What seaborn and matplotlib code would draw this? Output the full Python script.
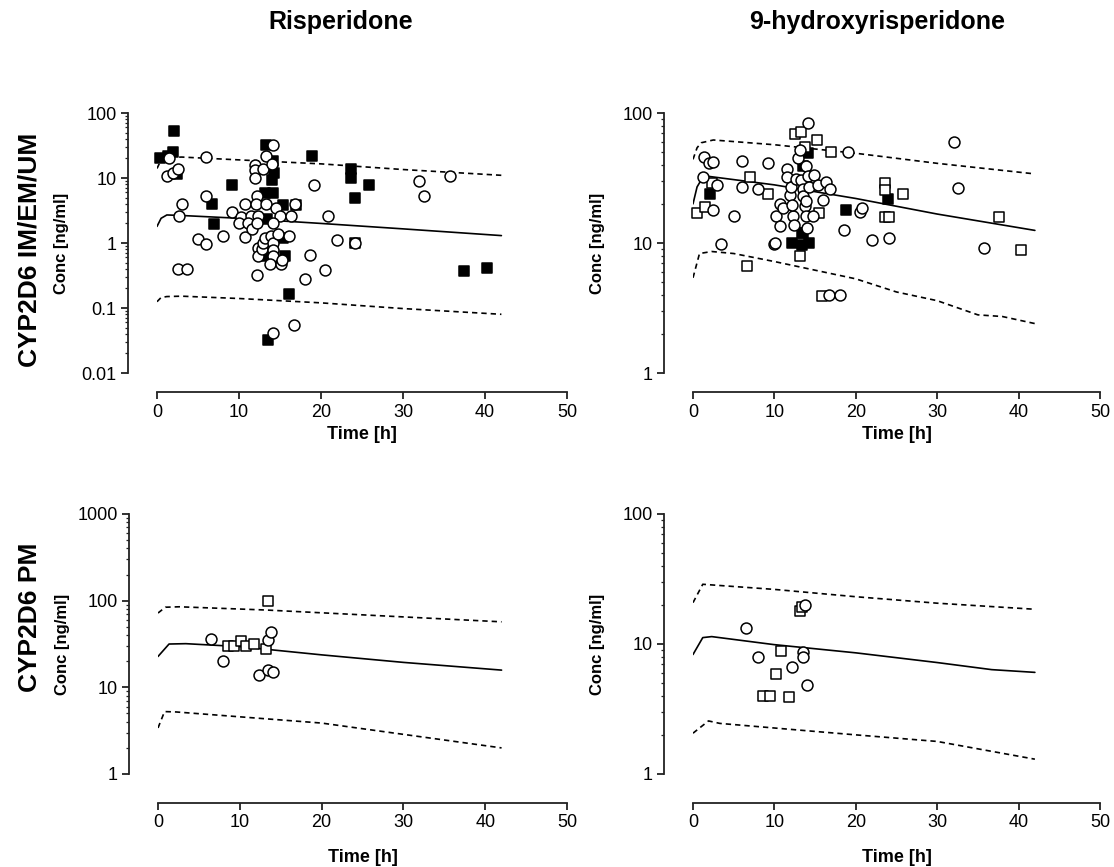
import numpy as np
import pandas as pd
import matplotlib
matplotlib.use("Agg")
import matplotlib.pyplot as plt
import seaborn as sns

# ---------------- data ----------------
# Risperidone, CYP2D6 IM/EM/UM
ris_em_circ_t = [1.5, 1.2, 2.0, 2.6, 2.7, 3.1, 2.5, 3.6, 6.0, 6.0, 5.0, 6.0, 8.0, 9.2, 10.2, 10.0,
                 10.7, 10.7, 11.5, 11.1, 11.6, 12.2, 12.1, 12.3, 12.2, 12.0, 12.0, 12.0, 12.9, 13.3,
                 14.2, 14.0, 13.3, 14.5, 15.0, 14.1, 16.3, 16.8, 12.3, 12.3, 12.8, 12.9, 13.2, 13.9,
                 14.1, 14.1, 14.1, 13.8, 15.1, 15.3, 14.8, 16.1, 12.2, 14.1, 16.7, 18.0, 18.6, 19.1,
                 20.5, 20.9, 22.0, 24.1, 31.9, 32.6, 35.7]
ris_em_circ_c = [20.3, 10.6, 12, 14, 2.6, 4.0, 0.40, 0.40, 21, 5.2, 1.15, 0.98, 1.3, 3.0, 2.5, 2.0,
                 4.0, 1.23, 2.6, 2.0, 1.64, 5.2, 4.0, 2.6, 2.0, 15.7, 13.4, 10, 14, 21.5,
                 32, 16.4, 4.0, 3.5, 2.6, 2.0, 2.6, 4.0, 0.84, 0.64, 0.82, 1.0, 1.2, 1.3,
                 1.0, 0.78, 0.64, 0.48, 0.48, 0.54, 1.37, 1.3, 0.32, 0.041, 0.054, 0.28, 0.65, 7.9,
                 0.38, 2.6, 1.1, 1.0, 8.9, 5.3, 10.7]
ris_em_fsq_t = [0.4, 1.3, 2.0, 2.1, 2.4, 9.2, 6.7, 7.0, 13.3, 14.1, 14.3, 14.0, 18.9, 23.6, 23.6,
                25.8, 24.1, 24.1, 16.1, 13.5, 15.6, 15.4, 17.0, 15.4, 13.2, 14.1, 13.4, 13.0,
                37.5, 40.3]
ris_em_fsq_c = [20, 22, 25, 52, 11.5, 7.7, 4.0, 1.96, 32, 18, 12, 9.4, 22, 14, 10,
                7.9, 5.0, 1.0, 0.164, 0.032, 0.62, 1.2, 3.9, 3.9, 5.8, 5.8, 2.3, 0.62,
                0.37, 0.41]
ris_em_osq_t = []
ris_em_osq_c = []
ris_em_time = [0, 0.5, 1.2, 3, 10, 20, 30, 42]
ris_em_med = [1.8, 2.4, 2.7, 2.65, 2.4, 2.0, 1.65, 1.3]
ris_em_lo = [0.125, 0.145, 0.15, 0.152, 0.14, 0.12, 0.098, 0.08]
ris_em_hi = [14, 19, 20.5, 21, 19, 16.5, 13.5, 11]

# 9-hydroxyrisperidone, CYP2D6 IM/EM/UM
oh_em_circ_t = [1.4, 2.0, 2.5, 1.2, 3.0, 2.5, 3.5, 5.0, 6.0, 6.0, 8.0, 9.2, 10.0, 10.2, 10.7, 11.0,
                10.7, 11.5, 11.5, 11.9, 12.1, 12.3, 12.4, 12.2, 12.7, 12.9, 13.2, 13.3, 13.5, 13.5,
                13.7, 13.9, 13.9, 14.0, 14.1, 13.9, 14.1, 14.3, 14.8, 14.9, 15.4, 16.0, 16.3, 16.8,
                18.5, 19.1, 20.5, 20.8, 22.0, 24.1, 16.7, 18.0, 32.1, 32.6, 35.8, 10.1]
oh_em_circ_c = [46, 41, 42, 32, 28, 18, 9.9, 16, 42.4, 27, 26, 41, 9.9, 16, 20, 18.5,
                13.4, 37, 32, 23.5, 27, 16, 13.8, 19.7, 31, 45, 52, 30.7, 26, 22.9,
                19.2, 21, 16, 13, 84, 39, 33, 27, 16, 33.5, 28, 21.5, 29.5, 26,
                12.6, 50, 17.2, 18.5, 10.6, 11, 4.0, 4.0, 59.5, 26.3, 9.2, 10]
oh_em_osq_t = [0.5, 1.5, 2.3, 7.0, 9.2, 6.6, 12.5, 13.3, 15.2, 13.8, 17.0, 13.2, 15.5, 15.9,
               23.6, 23.6, 25.8, 23.6, 24.1, 37.6, 40.3]
oh_em_osq_c = [17, 19, 29, 32, 24, 6.6, 69, 71, 62, 55, 50, 7.9, 17, 3.9,
               29, 25.4, 24, 15.8, 15.8, 15.9, 8.8]
oh_em_fsq_t = [2.1, 14.1, 13.5, 13.5, 12.2, 13.4, 14.2, 13.4, 18.8, 24.0]
oh_em_fsq_c = [24, 49, 39, 12, 10, 9.6, 10, 11.9, 17.8, 21.8]
oh_em_time = [0, 0.5, 1.2, 2.0, 10, 20, 30, 42]
oh_em_med = [20, 27, 32, 32.5, 28, 22, 16.7, 12.5]
oh_em_lo_t = [0, 0.8, 2.3, 5, 10, 20, 25, 30, 35, 38, 42]
oh_em_lo = [5.4, 8.3, 8.6, 8.3, 7.2, 5.3, 4.2, 3.6, 2.8, 2.72, 2.4]
oh_em_hi_t = [0, 0.5, 1, 2.5, 10, 20, 30, 42]
oh_em_hi = [44, 54, 59, 62, 57, 49, 41, 34]

# Risperidone, CYP2D6 PM
ris_pm_circ_t = [6.5, 8.0, 12.3, 13.5, 14.1, 13.5, 13.8]
ris_pm_circ_c = [35.9, 19.9, 13.9, 15.9, 15.1, 35, 43]
ris_pm_osq_t = [13.5, 8.6, 9.3, 10.2, 10.8, 11.7, 13.2]
ris_pm_osq_c = [99, 30, 30, 34, 29.6, 31.6, 27.8]
ris_pm_time = [0, 1.35, 3.4, 10, 20, 30, 42]
ris_pm_med = [22.7, 31.6, 31.9, 29.5, 23.7, 19.4, 15.8]
ris_pm_lo_t = [0, 0.8, 2.2, 20, 42]
ris_pm_lo = [3.4, 5.25, 5.2, 3.87, 2.0]
ris_pm_hi_t = [0, 0.9, 2.6, 13.2, 42]
ris_pm_hi = [72, 84, 85, 78, 57]

# 9-hydroxyrisperidone, CYP2D6 PM
oh_pm_circ_t = [6.5, 8.0, 12.2, 13.5, 13.5, 14.0, 13.8]
oh_pm_circ_c = [13.3, 7.95, 6.7, 8.7, 7.95, 4.8, 19.8]
oh_pm_osq_t = [13.2, 13.4, 10.8, 10.2, 8.6, 9.5, 11.8]
oh_pm_osq_c = [18.0, 19.3, 8.9, 5.9, 3.95, 3.95, 3.9]
oh_pm_time = [0, 1.2, 2.3, 9.9, 20, 30, 36.7, 42]
oh_pm_med = [8.3, 11.2, 11.4, 9.9, 8.55, 7.2, 6.35, 6.05]
oh_pm_lo_t = [0, 1.9, 3.3, 20, 30, 42]
oh_pm_lo = [2.06, 2.56, 2.45, 2.0, 1.78, 1.3]
oh_pm_hi_t = [0, 1.2, 10, 20, 30, 42]
oh_pm_hi = [20.8, 28.8, 26.3, 23.1, 20.6, 18.5]

# ---------------- figure ----------------
sns.set_style("ticks")
plt.rcParams['font.family'] = ['Liberation Sans', 'DejaVu Sans']
plt.rcParams['text.color'] = 'black'
plt.rcParams['axes.labelcolor'] = 'black'
plt.rcParams['xtick.color'] = 'black'
plt.rcParams['ytick.color'] = 'black'

W, H = 1114, 867
fig = plt.figure(figsize=(W / 100, H / 100), dpi=100)


def make_ax(left, right, top, bottom):
    return fig.add_axes([left / W, 1 - bottom / H, (right - left) / W, (bottom - top) / H])


def style_ax(ax, ylim, yticks, yticklabels, xpad):
    ax.set_yscale('log')
    ax.set_xlim(0, 50)
    ax.set_ylim(*ylim)
    ax.set_xticks([0, 10, 20, 30, 40, 50])
    ax.set_yticks(yticks)
    ax.set_yticklabels(yticklabels)
    ax.yaxis.set_minor_locator(matplotlib.ticker.LogLocator(base=10, subs=np.arange(2, 10)))
    ax.yaxis.set_minor_formatter(matplotlib.ticker.NullFormatter())
    for s in ['top', 'right']:
        ax.spines[s].set_visible(False)
    ax.spines['left'].set_position(('outward', 21))
    ax.spines['bottom'].set_position(('outward', xpad))
    for s in ['left', 'bottom']:
        ax.spines[s].set_linewidth(1.3)
        ax.spines[s].set_color('#222222')
    ax.tick_params(axis='both', which='major', length=5, width=1.3, labelsize=13,
                   color='#222222', labelcolor='black', pad=3)
    ax.tick_params(axis='y', which='minor', length=2.5, width=0.9, color='#222222')
    ax.set_xlabel('Time [h]', fontsize=13, fontweight='bold', color='black')
    ax.set_ylabel('Conc [ng/ml]', fontsize=12, fontweight='bold', color='black')
    ax.yaxis.set_label_coords(-0.215, 0.5)


def draw(ax, curves, circ, osq, fsq):
    for (t, v, ls) in curves:
        sns.lineplot(x=t, y=v, ax=ax, color='black', linestyle=ls, linewidth=1.2,
                     estimator=None, sort=False)
        if ls == '--':
            ax.lines[-1].set_dashes((3.2, 2.4))
    if fsq is not None and len(fsq[0]):
        sns.scatterplot(x=fsq[0], y=fsq[1], ax=ax, marker='s', s=58, color='black',
                        edgecolor='black', linewidth=1.1, zorder=3)
    if osq is not None and len(osq[0]):
        sns.scatterplot(x=osq[0], y=osq[1], ax=ax, marker='s', s=58, color='white',
                        edgecolor='black', linewidth=1.1, zorder=4)
    if circ is not None and len(circ[0]):
        sns.scatterplot(x=circ[0], y=circ[1], ax=ax, marker='o', s=62, color='white',
                        edgecolor='black', linewidth=1.1, zorder=5)


# top-left
ax1 = make_ax(157, 567, 113, 373)
draw(ax1,
     [(ris_em_time, ris_em_med, '-'), (ris_em_time, ris_em_lo, '--'), (ris_em_time, ris_em_hi, '--')],
     (ris_em_circ_t, ris_em_circ_c), (ris_em_osq_t, ris_em_osq_c), (ris_em_fsq_t, ris_em_fsq_c))
style_ax(ax1, (0.01, 100), [0.01, 0.1, 1, 10, 100], ['0.01', '0.1', '1', '10', '100'], 14)
ax1.xaxis.set_label_coords(0.5, -0.205)

# top-right
ax2 = make_ax(693, 1100, 113, 373)
draw(ax2,
     [(oh_em_time, oh_em_med, '-'), (oh_em_lo_t, oh_em_lo, '--'), (oh_em_hi_t, oh_em_hi, '--')],
     (oh_em_circ_t, oh_em_circ_c), (oh_em_osq_t, oh_em_osq_c), (oh_em_fsq_t, oh_em_fsq_c))
style_ax(ax2, (1, 100), [1, 10, 100], ['1', '10', '100'], 14)
ax2.xaxis.set_label_coords(0.5, -0.205)

# bottom-left
ax3 = make_ax(158, 567, 514, 774)
draw(ax3,
     [(ris_pm_time, ris_pm_med, '-'), (ris_pm_lo_t, ris_pm_lo, '--'), (ris_pm_hi_t, ris_pm_hi, '--')],
     (ris_pm_circ_t, ris_pm_circ_c), (ris_pm_osq_t, ris_pm_osq_c), None)
style_ax(ax3, (1, 1000), [1, 10, 100, 1000], ['1', '10', '100', '1000'], 21)
ax3.xaxis.set_label_coords(0.5, -0.29)

# bottom-right
ax4 = make_ax(693, 1100, 514, 774)
draw(ax4,
     [(oh_pm_time, oh_pm_med, '-'), (oh_pm_lo_t, oh_pm_lo, '--'), (oh_pm_hi_t, oh_pm_hi, '--')],
     (oh_pm_circ_t, oh_pm_circ_c), (oh_pm_osq_t, oh_pm_osq_c), None)
style_ax(ax4, (1, 100), [1, 10, 100], ['1', '10', '100'], 21)
ax4.xaxis.set_label_coords(0.5, -0.29)

for ax in [ax1, ax2, ax3, ax4]:
    for c in ax.collections:
        c.set_clip_on(False)

fig.text(341 / W, 1 - 22 / H, 'Risperidone', ha='center', va='center',
         fontsize=18, fontweight='bold')
fig.text(877 / W, 1 - 22 / H, '9-hydroxyrisperidone', ha='center', va='center',
         fontsize=18, fontweight='bold')
fig.text(30 / W, 1 - 250 / H, 'CYP2D6 IM/EM/UM', ha='center', va='center', rotation=90,
         fontsize=19, fontweight='bold')
fig.text(30 / W, 1 - 617 / H, 'CYP2D6 PM', ha='center', va='center', rotation=90,
         fontsize=19, fontweight='bold')

fig.savefig('out.png', dpi=100)
